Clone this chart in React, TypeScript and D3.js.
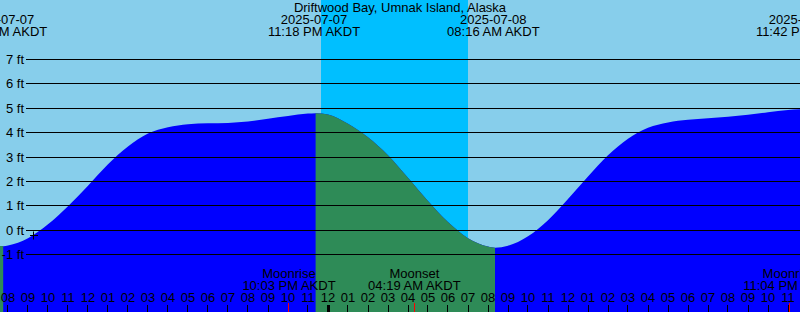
import React from "react";
import * as d3 from "d3";

// ---- data (hours relative to 2025-07-08 00:00 AKDT) ----
const tideHours = [-17, -16.24, -16, -15, -14, -13, -12, -11, -10, -9, -8, -7, -6, -5, -4, -3, -2, -1, -0.62, 0, 1, 2, 3, 4, 5, 6, 7, 8, 8.35, 9, 10, 11, 12, 13, 14, 15, 16, 17, 18, 19, 20, 21, 22, 23, 23.78, 24.5];
const tideFeet = [-0.58, -0.66, -0.63, -0.33, 0.24, 0.98, 1.82, 2.7, 3.43, 3.96, 4.22, 4.34, 4.38, 4.4, 4.46, 4.57, 4.68, 4.78, 4.8, 4.74, 4.36, 3.81, 3.07, 2.15, 1.2, 0.33, -0.33, -0.67, -0.72, -0.64, -0.25, 0.41, 1.28, 2.2, 3.07, 3.75, 4.2, 4.42, 4.53, 4.59, 4.65, 4.73, 4.84, 4.93, 4.96, 4.94];

const extremeHours = [-16.35, -0.7, 8.267, 23.7];
const extremeDates = ["2025-07-07", "2025-07-07", "2025-07-08", "2025-07-08"];
const extremeTimes = ["07:39 AM AKDT", "11:18 PM AKDT", "08:16 AM AKDT", "11:42 PM AKDT"];

const nightStart = [-0.35];
const nightEnd = [7.0];

const moonHours = [-1.95, 4.317, 23.067];
const moonNames = ["Moonrise", "Moonset", "Moonrise"];
const moonTimes = ["10:03 PM AKDT", "04:19 AM AKDT", "11:04 PM AKDT"];

const hourTicks = d3.range(-16, 24);
const feetTicks = [-1, 0, 1, 2, 3, 4, 5, 6, 7];

const markHour = -14.7;
const markFeet = -0.2;

const title = "Driftwood Bay, Umnak Island, Alaska";

// ---- style ----
const W = 800;
const H = 312;
const SKY_DAY = "#87CEEB";
const SKY_NIGHT = "#00BFFF";
const WATER_RISE = "#0000FF";
const WATER_FALL = "#2E8B57";
const FONT = "'Liberation Sans', Arial, sans-serif";
const FS = 13;

export default function App() {
  const x = d3.scaleLinear().domain([-16.4, 23.6]).range([0, W]);
  const y = d3.scaleLinear().domain([-1, 7]).range([254.5, 59.5]);

  const pts = tideHours.map((h, i) => [h, tideFeet[i]] as [number, number]);
  const area = d3
    .area<[number, number]>()
    .x((d) => x(d[0]))
    .y0(H)
    .y1((d) => y(d[1]))
    .curve(d3.curveMonotoneX);

  // falling segments
  const falling: [number, number][] = [];
  for (let i = 0; i < pts.length - 1; i++) {
    if (pts[i + 1][1] < pts[i][1]) {
      const last = falling[falling.length - 1];
      if (last && last[1] === pts[i][0]) last[1] = pts[i + 1][0];
      else falling.push([pts[i][0], pts[i + 1][0]]);
    }
  }

  const fmtHour = (h: number) => {
    const hh = ((h % 24) + 24) % 24;
    const v = hh % 12 === 0 ? 12 : hh % 12;
    return String(v).padStart(2, "0");
  };

  const mx = x(markHour);
  const my = Math.floor(y(markFeet)) + 0.5;

  return (
    <>
      <style>{`body{margin:0}`}</style>
      <svg width={W} height={H} style={{ display: "block" }} fontFamily={FONT} fontSize={FS}>
        <defs>
          <clipPath id="water">
            <path d={area(pts) || ""} />
          </clipPath>
        </defs>
        <rect x={0} y={0} width={W} height={H} fill={SKY_DAY} />
        {nightStart.map((s, i) => (
          <rect key={i} x={x(s)} y={0} width={x(nightEnd[i]) - x(s)} height={H} fill={SKY_NIGHT} />
        ))}
        <g clipPath="url(#water)">
          <rect x={0} y={0} width={W} height={H} fill={WATER_RISE} />
          {falling.map((f, i) => (
            <rect key={i} x={x(f[0])} y={0} width={x(f[1]) - x(f[0])} height={H} fill={WATER_FALL} />
          ))}
        </g>
        {feetTicks.map((f) => {
          const yy = Math.floor(y(f)) + 0.5;
          return (
            <g key={f}>
              <line x1={26} x2={W} y1={yy} y2={yy} stroke="#000" strokeWidth={1} />
              <text x={24} y={yy + 4} textAnchor="end" fill="#000">
                {`${f} ft`}
              </text>
            </g>
          );
        })}
        <text x={W / 2} y={12} textAnchor="middle" fill="#000">
          {title}
        </text>
        {extremeHours.map((h, i) => (
          <g key={i}>
            <text x={x(h)} y={24} textAnchor="middle" fill="#000">
              {extremeDates[i]}
            </text>
            <text x={x(h)} y={36} textAnchor="middle" fill="#000">
              {extremeTimes[i]}
            </text>
          </g>
        ))}
        <line x1={mx - 4} x2={mx + 4} y1={my} y2={my} stroke="#000" />
        <line x1={Math.floor(mx) + 0.5} x2={Math.floor(mx) + 0.5} y1={my - 4} y2={my + 4} stroke="#000" />
        {moonHours.map((h, i) => (
          <g key={i}>
            <text x={x(h)} y={278} textAnchor="middle" fill="#000">
              {moonNames[i]}
            </text>
            <text x={x(h)} y={290} textAnchor="middle" fill="#000">
              {moonTimes[i]}
            </text>
          </g>
        ))}
        {hourTicks.map((h) => {
          const xx = Math.floor(x(h)) + 0.5;
          return (
            <g key={h}>
              <text x={x(h)} y={302} textAnchor="middle" fill="#000">
                {fmtHour(h)}
              </text>
              {h % 24 === 0 ? (
                <rect x={Math.floor(x(h)) - 1} y={305} width={3} height={7} fill="#000" />
              ) : (
                <line x1={xx} x2={xx} y1={305} y2={H} stroke="#000" />
              )}
            </g>
          );
        })}
        {moonHours.map((h, i) => {
          const xx = Math.floor(x(h)) + 0.5;
          return <line key={"m" + i} x1={xx} x2={xx} y1={303} y2={H} stroke="#FF0000" />;
        })}
      </svg>
    </>
  );
}
